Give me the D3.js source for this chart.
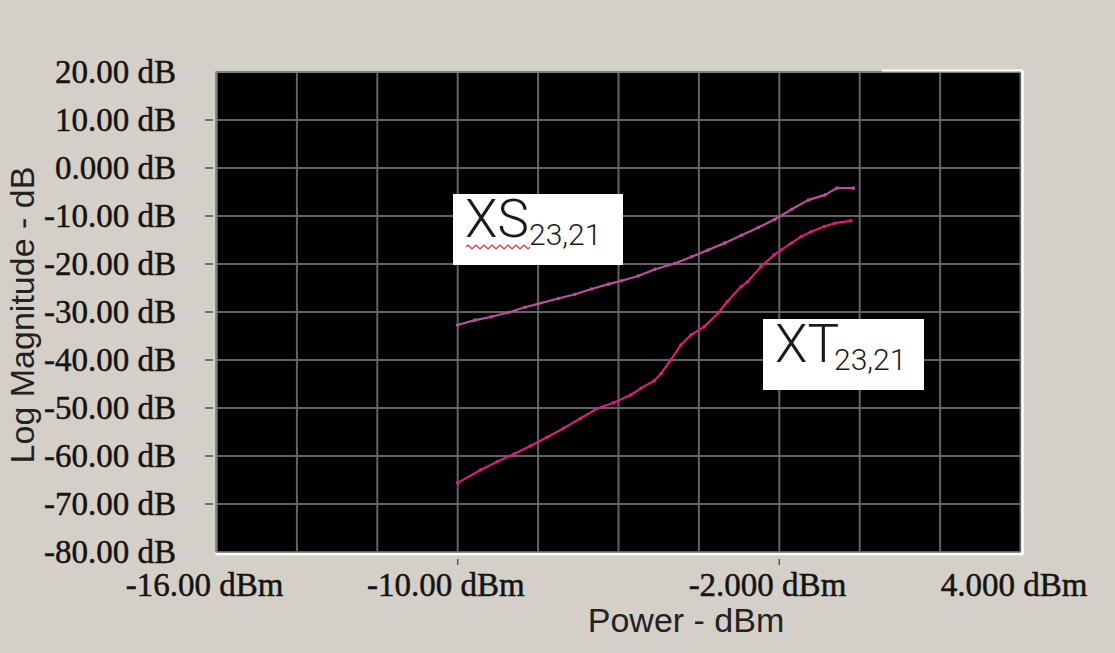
<!DOCTYPE html>
<html>
<head>
<meta charset="utf-8">
<script src="https://cdn.jsdelivr.net/npm/d3@7"></script>
<style>
  html, body { margin: 0; padding: 0; background: #d4d0c8; }
  svg { display: block; }
</style>
</head>
<body>
<svg id="chart" width="1115" height="653"></svg>
<script>
// ---- data ----
const xTickValues = [-16, -10, -2, 4];
const xTickLabels = ["-16.00 dBm", "-10.00 dBm", "-2.000 dBm", "4.000 dBm"];
const xGridValues = [-16, -14, -12, -10, -8, -6, -4, -2, 0, 2, 4];
const yTickValues = [20, 10, 0, -10, -20, -30, -40, -50, -60, -70, -80];
const yTickLabels = ["20.00 dB", "10.00 dB", "0.000 dB", "-10.00 dB", "-20.00 dB", "-30.00 dB",
                     "-40.00 dB", "-50.00 dB", "-60.00 dB", "-70.00 dB", "-80.00 dB"];

const powerXS = [-10.0, -9.57, -9.16, -8.74, -8.33, -8.00, -7.50, -7.08, -6.67, -6.25, -5.92, -5.51,
                 -5.09, -4.60, -4.18, -3.77, -3.35, -2.94, -2.52, -2.11, -1.69, -1.28, -0.86, -0.57, -0.16];
const magXS   = [-32.7, -31.7, -31.0, -30.1, -29.0, -28.3, -27.2, -26.3, -25.2, -24.2, -23.5, -22.5,
                 -21.1, -19.9, -18.5, -17.1, -15.6, -14.0, -12.4, -10.7, -8.6, -6.7, -5.6, -4.2, -4.2];

const powerXT = [-10.0, -9.43, -9.02, -8.60, -8.19, -7.78, -7.36, -6.95, -6.53, -6.12, -5.70, -5.44,
                 -5.11, -4.94, -4.70, -4.45, -4.20, -3.87, -3.53, -3.29, -2.95, -2.79, -2.46, -2.13,
                 -1.96, -1.71, -1.46, -1.21, -0.88, -0.63, -0.22];
const magXT   = [-65.6, -62.9, -61.2, -59.6, -57.9, -56.1, -54.2, -52.2, -50.1, -48.9, -47.3, -45.9,
                 -44.3, -42.8, -40.0, -36.9, -34.8, -33.1, -30.3, -27.8, -24.7, -23.7, -20.6, -18.1,
                 -17.1, -15.7, -14.3, -13.3, -12.2, -11.5, -11.0];

const seriesNames = ["XS", "XT"];
const seriesSub = "23,21";

// ---- layout ----
const svg = d3.select("#chart");
const W = 1115, H = 653;
const x = d3.scaleLinear().domain([-16, 4]).range([216.5, 1020.5]);
const y = d3.scaleLinear().domain([-80, 20]).range([552, 72]);

svg.append("rect").attr("width", W).attr("height", H).attr("fill", "#d4d0c8");

// plot background
svg.append("rect")
  .attr("x", x(-16)).attr("y", y(20))
  .attr("width", x(4) - x(-16)).attr("height", y(-80) - y(20))
  .attr("fill", "#000");

// grid
const grid = svg.append("g").attr("stroke", "#636363").attr("stroke-width", 2);
grid.selectAll("line.v").data(xGridValues).join("line")
  .attr("x1", d => x(d)).attr("x2", d => x(d))
  .attr("y1", y(20)).attr("y2", y(-80));
grid.selectAll("line.h").data(yTickValues).join("line")
  .attr("x1", x(-16)).attr("x2", x(4))
  .attr("y1", d => y(d)).attr("y2", d => y(d));

// sunken frame
svg.append("path")
  .attr("d", `M${x(-16)},${y(-80)} V${y(20)} H${x(4)}`)
  .attr("fill", "none").attr("stroke", "#808080").attr("stroke-width", 2);
svg.append("path")
  .attr("d", `M${x(-16) - 1},${y(-80) + 2} H${x(4) + 2} V${y(20) - 1}`)
  .attr("fill", "none").attr("stroke", "#ffffff").attr("stroke-width", 2.5);
svg.append("line")
  .attr("x1", 882).attr("x2", x(4) + 2).attr("y1", y(20) - 1.5).attr("y2", y(20) - 1.5)
  .attr("stroke", "#ffffff").attr("stroke-width", 2);

// ticks
svg.append("g").selectAll("line").data(yTickValues.slice(1, -1)).join("line")
  .attr("x1", 205).attr("x2", 213)
  .attr("y1", d => y(d)).attr("y2", d => y(d))
  .attr("stroke", "#555").attr("stroke-width", 1.5);
svg.append("g").selectAll("line").data(xTickValues.slice(1, -1)).join("line")
  .attr("x1", d => x(d)).attr("x2", d => x(d))
  .attr("y1", 559).attr("y2", 565)
  .attr("stroke", "#555").attr("stroke-width", 1.5);

// tick labels
svg.append("g").selectAll("text").data(yTickValues).join("text")
  .attr("x", 176).attr("y", d => y(d) + 11)
  .attr("text-anchor", "end")
  .attr("font-family", "'Liberation Serif', 'DejaVu Serif', serif")
  .attr("font-size", 33).attr("fill", "#141414")
  .attr("stroke", "#141414").attr("stroke-width", 0.5)
  .text((d, i) => yTickLabels[i]);
svg.append("g").selectAll("text").data(xTickValues).join("text")
  .attr("x", d => x(d) + 67).attr("y", 596)
  .attr("text-anchor", "end")
  .attr("font-family", "'Liberation Serif', 'DejaVu Serif', serif")
  .attr("font-size", 33).attr("fill", "#141414")
  .attr("stroke", "#141414").attr("stroke-width", 0.5)
  .text((d, i) => xTickLabels[i]);

// axis titles
svg.append("text")
  .attr("transform", "translate(34,315) rotate(-90)")
  .attr("text-anchor", "middle")
  .attr("font-family", "'Liberation Sans', Arial, sans-serif")
  .attr("font-size", 34).attr("fill", "#222")
  .text("Log Magnitude - dB");
svg.append("text")
  .attr("x", 686).attr("y", 632)
  .attr("text-anchor", "middle")
  .attr("font-family", "'Liberation Sans', Arial, sans-serif")
  .attr("font-size", 34).attr("fill", "#222")
  .text("Power - dBm");

// series
const line = d3.line().x(d => x(d[0])).y(d => y(d[1]));
const series = [
  { pts: d3.zip(powerXS, magXS), color: "#b9509f" },
  { pts: d3.zip(powerXT, magXT), color: "#d61f7f" }
];
series.forEach(s => {
  svg.append("path").attr("d", line(s.pts))
    .attr("fill", "none").attr("stroke", s.color).attr("stroke-width", 2.2)
    .attr("stroke-linejoin", "round");
  svg.append("g").selectAll("circle").data(s.pts).join("circle")
    .attr("cx", d => x(d[0])).attr("cy", d => y(d[1])).attr("r", 1.8)
    .attr("fill", s.color);
});

// labels
const labels = [
  { name: seriesNames[0], box: [453, 194, 170, 71], tx: 465, ty: 237, sx: 529, sy: 244.5 },
  { name: seriesNames[1], box: [763, 319, 161, 71], tx: 775, ty: 362, sx: 834, sy: 369.5 }
];
labels.forEach((l, i) => {
  svg.append("rect").attr("x", l.box[0]).attr("y", l.box[1])
    .attr("width", l.box[2]).attr("height", l.box[3]).attr("fill", "#fff");
  svg.append("text").attr("x", l.tx).attr("y", l.ty)
    .attr("font-family", "Roboto, 'Open Sans', sans-serif").attr("font-weight", 300)
    .attr("font-size", 53).attr("fill", "#1a1a1a").text(l.name);
  svg.append("text").attr("x", l.sx).attr("y", l.sy)
    .attr("font-family", "Roboto, 'Open Sans', sans-serif").attr("font-weight", 300)
    .attr("font-size", 30).attr("fill", "#1a1a1a").text(seriesSub);
});

// spell-check wavy underline under "XS"
let wave = "M466,247";
for (let i = 0; i < 16; i++) {
  wave += ` l2,${i % 2 === 0 ? -2 : 2} l2,${i % 2 === 0 ? 2 : -2}`;
}
svg.append("path").attr("d", wave).attr("fill", "none")
  .attr("stroke", "#e8343a").attr("stroke-width", 1.2);
</script>
</body>
</html>
